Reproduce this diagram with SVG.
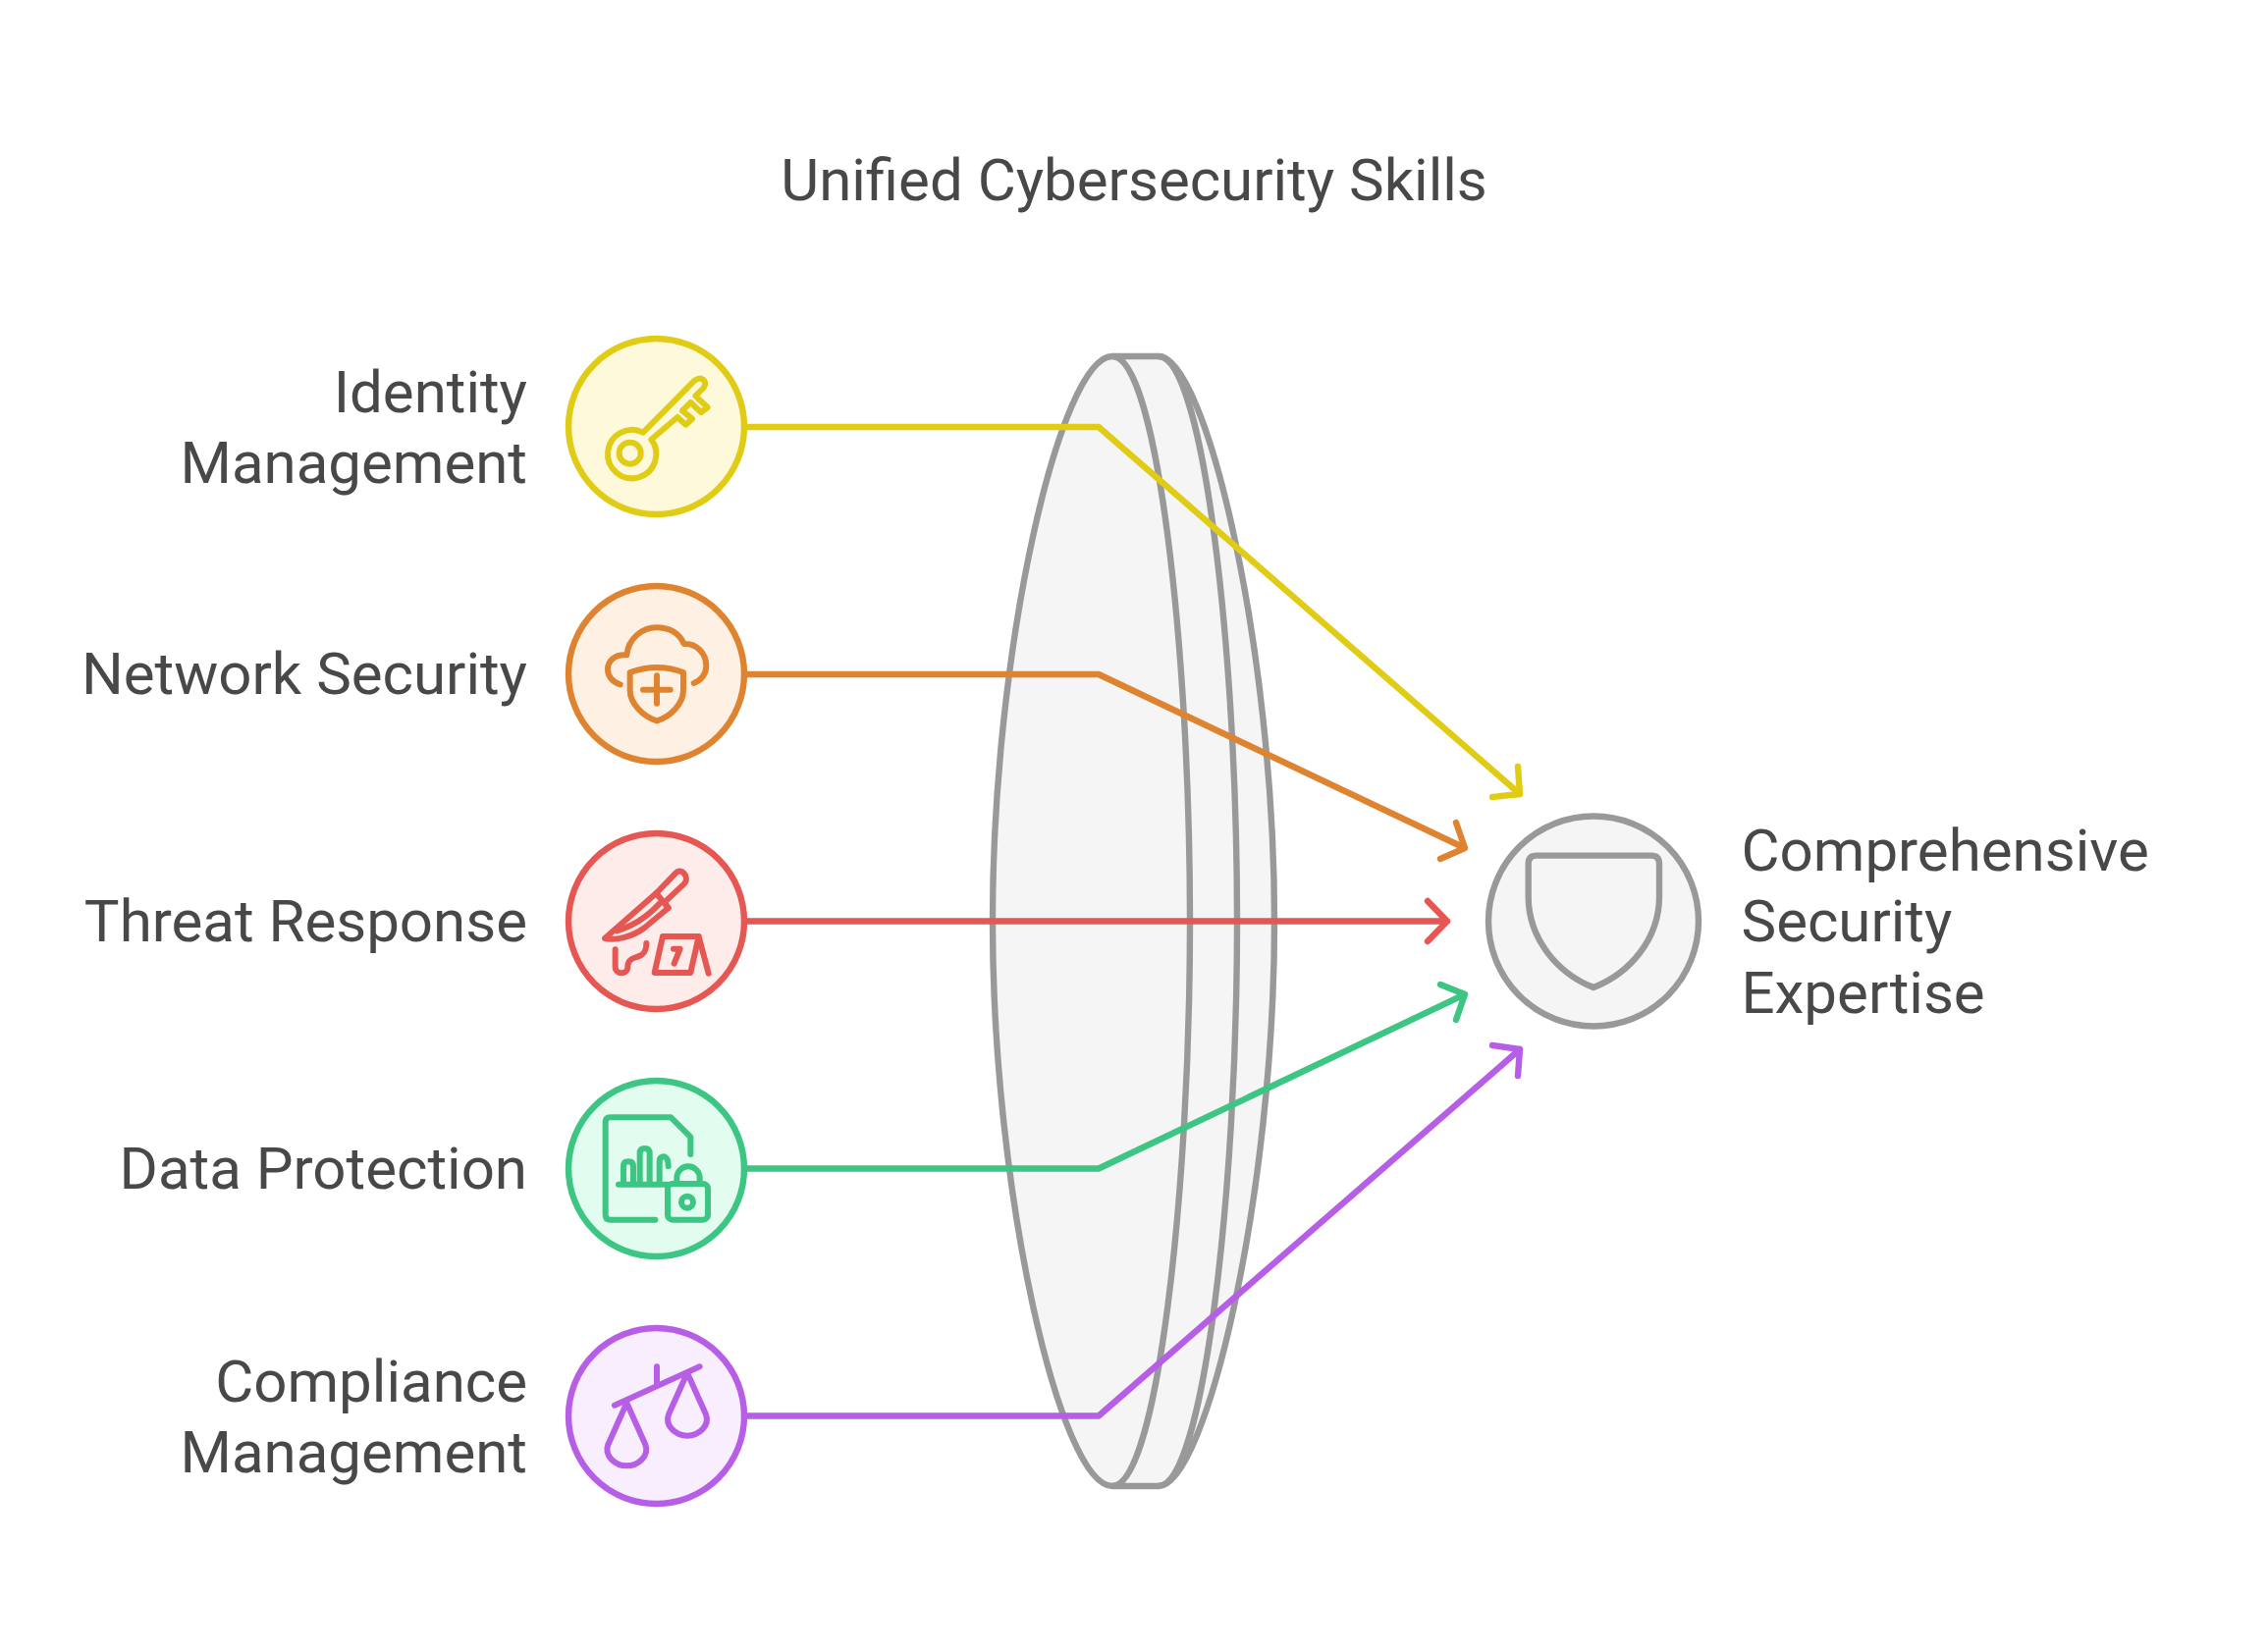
<svg xmlns="http://www.w3.org/2000/svg" width="2310" height="1681" viewBox="0 0 2310 1681">
<style>
text{font-family:Roboto,"Liberation Sans",sans-serif;font-size:60px;fill:#484848}
.l{text-anchor:end}
.c{stroke-width:6.4}
.i{fill:none;stroke-width:18;stroke-linecap:round;stroke-linejoin:round}
.a{fill:none;stroke-width:6.4;stroke-linecap:round;stroke-linejoin:round}
.y{stroke:#e0cb15}.o{stroke:#de8431}.r{stroke:#e55753}.g{stroke:#3cc583}.p{stroke:#b75ee6}.k{stroke:#999}
</style>
<rect width="2310" height="1681" fill="#fff"/>
<text id="title" x="1155" y="204" text-anchor="middle">Unified Cybersecurity Skills</text>
<g id="lens" fill="#f5f5f5" stroke="#999" stroke-width="6.400" stroke-linejoin="round">
<path d="M1133 363L1180 363C1228 363 1298 660 1298 938.500C1298 1217 1228 1514 1180 1514L1133 1514C1080 1514 1011 1217 1011 938.500C1011 660 1080 363 1133 363Z"/>
<path d="M1180 363C1225 363 1260 660 1260 938.500C1260 1217 1225 1514 1180 1514" fill="none"/>
<path d="M1133 363C1178 363 1212 660 1212 938.500C1212 1217 1178 1514 1133 1514" fill="none"/>
</g>
<g id="identity">
<text class="l" x="537" y="420">Identity</text><text class="l" x="537" y="492">Management</text>
<circle class="c y" cx="668.500" cy="434.500" r="89.500" fill="#fef9da"/>
<g class="i y" transform="translate(560 320) scale(.33333)">
<circle cx="245" cy="425" r="33"/>
<path d="M285 362A74 74 0 1 0 310 383L390 315L415 338L435 320L405 295L430 270L462 300L482 285L445 250L470 225C485 205 460 185 440 205Z"/>
</g>
</g>
<g id="network">
<text class="l" x="537" y="707">Network Security</text>
<circle class="c o" cx="668.500" cy="686.500" r="89.500" fill="#fef0e3"/>
<g class="i o" transform="translate(560 580) scale(.33333)">
<path d="M215 352C190 345 177 325 177 305C177 280 200 258 235 262C240 210 285 178 325 178C365 178 395 195 410 228C450 225 478 260 478 295C478 320 462 340 440 348"/>
<path d="M245 315C300 295 355 295 408 315L408 370C408 410 370 450 327 463C285 450 245 410 245 370Z"/>
<path d="M285 368H368M327 325V410"/>
</g>
</g>
<g id="threat">
<text class="l" x="537" y="959">Threat Response</text>
<circle class="c r" cx="668.500" cy="938.500" r="89.500" fill="#feeceb"/>
<g class="i r" transform="translate(560 830) scale(.33333)">
<path d="M168 378L325 240L385 178C400 160 430 190 410 212L350 268L362 285L290 345C250 375 200 385 168 378Z"/>
<path d="M325 240L362 285M205 355C250 340 290 320 335 272"/>
<path d="M200 412L200 465C200 490 238 490 238 465C238 445 250 440 265 435C285 430 295 420 295 393"/>
<path d="M345 372L455 372L485 485M345 372L320 483L430 483L455 372M378 410L398 410L380 455"/>
</g>
</g>
<g id="data">
<text class="l" x="537" y="1211">Data Protection</text>
<circle class="c g" cx="668.500" cy="1190.500" r="89.500" fill="#e2fdf0"/>
<g class="i g" transform="translate(560 1080) scale(.33333)">
<path d="M322 488L185 488Q170 488 170 473L170 190Q170 175 185 175L370 175L430 235L430 288"/>
<path d="M210 380H358M225 380L225 325Q225 310 240 310Q255 310 255 325L255 380M275 380L275 285Q275 270 290 270Q305 270 305 285L305 380M335 380L335 310Q335 295 350 295Q362 298 362 325"/>
<rect x="360" y="378" width="123" height="110" rx="15"/>
<path d="M388 378L388 360A35 35 0 0 1 458 360L458 378"/>
<circle cx="420" cy="434" r="18"/>
</g>
</g>
<g id="compliance">
<text class="l" x="537" y="1428">Compliance</text><text class="l" x="537" y="1500">Management</text>
<circle class="c p" cx="668.500" cy="1442.500" r="89.500" fill="#f9eefe"/>
<g class="i p" transform="translate(560 1330) scale(.33333)">
<path d="M198 305L458 187M327 187V240"/>
<path d="M235 298L178 425C165 460 200 490 235 490C270 490 305 460 292 425Z"/>
<path d="M420 206L363 333C350 368 385 398 420 398C455 398 490 368 477 333Z"/>
</g>
</g>
<g id="expertise">
<circle cx="1623" cy="938.500" r="107" fill="#f5f5f5" stroke="#999" stroke-width="6.400"/>
<path transform="translate(1440 780) scale(.33333)" d="M350 300Q350 275 375 275L725 275Q750 275 750 300L750 400C750 530 660 635 549 678C440 635 350 530 350 400Z" fill="none" stroke="#999" stroke-width="19" stroke-linejoin="round"/>
<text x="1773.500" y="887">Comprehensive</text><text x="1773.500" y="959">Security</text><text x="1773.500" y="1032">Expertise</text>
</g>
<g id="connectors">
<path class="a y" d="M758 435H1119L1548 809M1520 812L1548 809L1546 781"/>
<path class="a o" d="M758 687H1119L1492 864M1467 875L1492 864L1483 838"/>
<path class="a r" d="M758 938.500H1474M1454 918L1474 938.500L1454 959"/>
<path class="a g" d="M758 1190.500H1119L1492 1013M1467 1003L1492 1013L1483 1039"/>
<path class="a p" d="M758 1442.500H1119L1548 1069M1520 1065L1548 1069L1546 1096"/>
</g>
</svg>
